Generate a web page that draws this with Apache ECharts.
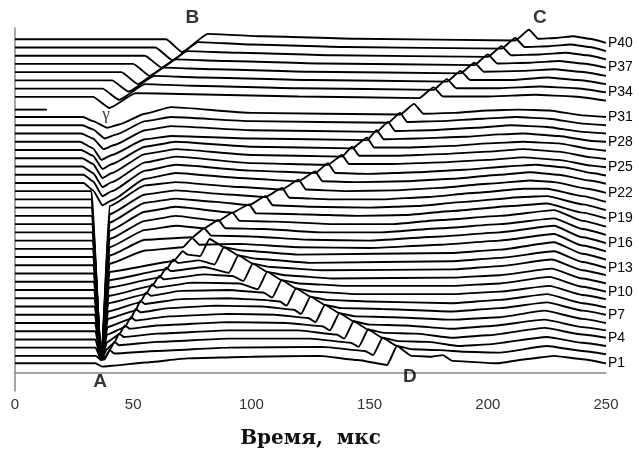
<!DOCTYPE html>
<html><head><meta charset="utf-8">
<script src="https://cdn.jsdelivr.net/npm/echarts@6/dist/echarts.min.js"></script>
<style>html,body{margin:0;padding:0;background:#fff}#c{width:639px;height:454px}</style>
</head><body><div id="c"></div>
<script>
// time axis ticks (мкс)
const xTicks = [0, 50, 100, 150, 200, 250];
const traceNames = ['P1','P2','P3','P4','P5','P6','P7','P8','P9','P10','P11','P12','P13','P14','P15','P16','P17','P18','P19','P20','P21','P22','P23','P24','P25','P26','P27','P28','P29','P30','P31','P32','P33','P34','P35','P36','P37','P38','P39','P40'];
const labeledTraces = ['P1','P4','P7','P10','P13','P16','P19','P22','P25','P28','P31','P34','P37','P40'];
// each trace: [time, deflection in trace spacings]
const P1 = [[0,0.1],[34,0.1],[37,-0.3],[41,-0.2],[55,0.2],[73,0.7],[100,0.9],[129,1.0],[145,0.5],[157.4,-0.1],[161.6,2.2],[167.7,1.0],[176,0.9],[181,1.1],[185,0.4],[204,0.1],[216,0.6],[228,1.0],[240,0.6],[250,0.1]];
const P2 = [[0,0],[34.2,0],[36.5,-0.5],[38,-0.4],[40,0.7],[42,0.3],[60,0.6],[90,1.0],[130,1.1],[148,0.6],[151.5,0.1],[155.5,2.2],[161.6,1.2],[168,0.8],[180,0.7],[190,0.5],[205,0.4],[225,1.2],[240,0.6],[250,0.2]];
const P3 = [[0,0],[34.1,0],[36.5,-1.5],[38.5,-1.0],[40,-0.3],[42,0.7],[44,0.3],[60,0.7],[90,1.1],[125,1.1],[142,0.6],[145.4,0.1],[149.4,2.2],[155.5,1.2],[162,0.8],[175,0.7],[188,0.2],[200,0.4],[225,1.3],[240,0.6],[250,0.2]];
const P4 = [[0,0],[34,0],[36.5,-2.5],[38.8,-1.2],[42,-0.4],[44,0.7],[46,0.3],[60,0.7],[90,1.1],[120,1.1],[136,0.6],[139.3,0.1],[143.3,2.2],[149.4,1.2],[156,0.8],[170,0.7],[185,0.2],[200,0.5],[224,1.4],[240,0.6],[250,0.2]];
const P5 = [[0,0],[34,0],[36.5,-3.5],[39,-1.3],[44,-0.4],[46.5,0.7],[48.5,0.3],[60,0.7],[90,1.1],[115,1.0],[130,0.6],[133.2,0.1],[137.2,2.2],[143.3,1.2],[150,0.8],[165,0.7],[185,0.3],[200,0.6],[224,1.4],[240,0.5],[250,0.1]];
const P6 = [[0,0],[33.9,0],[36.5,-4.5],[39,-1.4],[46.5,-0.5],[49,0.7],[51,0.3],[65,0.8],[90,1.1],[110,1.0],[124,0.6],[127.1,0.1],[131.1,2.2],[137.2,1.2],[144,0.8],[160,0.7],[185,0.4],[205,0.7],[224,1.5],[240,0.5],[250,0]];
const P7 = [[0,0],[33.8,0],[36.5,-5.5],[39.2,-1.5],[49,-0.5],[51,0.7],[53,0.3],[65,0.8],[85,1.1],[105,1.0],[118,0.6],[121,0.1],[125,2.2],[131.1,1.2],[138,0.8],[155,0.7],[185,0.4],[205,0.8],[225,1.5],[240,0.5],[250,0]];
const P8 = [[0,0],[33.7,0],[36.5,-6.5],[39.3,-1.5],[51,-0.5],[53,0.7],[55,0.3],[70,0.9],[90,1.0],[105,0.8],[112,0.6],[114.9,0.1],[118.9,2.2],[125,1.2],[132,0.8],[150,0.6],[185,0.4],[205,0.8],[225,1.5],[240,0.4],[250,-0.1]];
const P9 = [[0,0],[33.6,0],[36.5,-7.5],[39.4,-1.6],[53,-0.5],[55.5,0.7],[57.5,0.3],[70,0.9],[90,1.0],[105,0.7],[108.8,0.1],[112.8,2.2],[118.9,1.2],[126,0.8],[145,0.5],[185,0.5],[205,0.8],[226,1.5],[240,0.4],[250,-0.1]];
const P10 = [[0,0],[33.5,0],[36.5,-8.5],[39.5,-1.6],[55.5,-0.5],[58,0.7],[60,0.3],[75,0.9],[95,0.8],[102.7,0.1],[106.7,2.2],[112.8,1.2],[120,0.8],[140,0.5],[185,0.5],[205,0.8],[226,1.6],[240,0.4],[250,-0.2]];
const P11 = [[0,0],[33.4,0],[36.5,-9.5],[39.6,-1.7],[58,-0.5],[61,0.7],[63,0.3],[80,0.9],[92,0.7],[96.6,0.1],[100.6,2.2],[106.7,1.2],[114,0.8],[135,0.4],[185,0.5],[205,0.8],[227,1.6],[240,0.4],[250,-0.2]];
const P12 = [[0,0],[33.3,0],[36.5,-10.5],[39.7,-1.7],[61,-0.5],[64,0.7],[66,0.3],[80,0.8],[90.5,0.1],[94.5,2.2],[100.6,1.2],[108,0.8],[130,0.4],[185,0.5],[205,0.9],[227,1.7],[240,0.4],[250,-0.2]];
const P13 = [[0,0],[33.2,0],[36.5,-11.5],[39.8,-1.8],[64,-0.5],[67,0.7],[69,0.3],[78,0.6],[84.4,0.1],[88.4,2.2],[94.5,1.2],[102,0.8],[125,0.3],[185,0.5],[205,0.9],[228,1.7],[240,0.4],[250,-0.3]];
const P14 = [[0,0],[33.1,0],[36.5,-12.5],[40,-1.8],[67,-0.5],[71,0.7],[73,0.3],[78.3,0.1],[82.3,2.2],[88.4,1.2],[96,0.8],[120,0.3],[185,0.5],[205,0.9],[228,1.8],[240,0.4],[250,-0.3]];
const P15 = [[0,0],[33,0],[36.5,-13.5],[40,-1.8],[55,-0.2],[71,0.2],[75,1.3],[78,0.5],[95,0.6],[120,0.2],[150,0.1],[180,0.5],[205,1.0],[228,1.8],[240,0.4],[250,-0.3]];
const P16 = [[0,0],[32.9,0],[36.5,-14.5],[40,-1.8],[55,0.1],[75,0.4],[80,1.5],[83,0.6],[100,0.5],[125,0.1],[150,0],[180,0.5],[205,1.0],[228,1.8],[240,0.4],[250,-0.3]];
const P17 = [[0,0],[32.8,0],[36.5,-15.5],[40,-1.8],[55,0.3],[68,0.8],[80,0.5],[86,1.5],[89,0.5],[105,0.4],[130,0],[155,0],[180,0.5],[205,1.0],[228,1.7],[240,0.4],[250,-0.3]];
const P18 = [[0,0],[32.7,0],[36.5,-16.5],[40,-1.8],[55,0.4],[68,1.0],[86,0.4],[92,1.4],[95,0.4],[110,0.3],[135,0],[160,0],[180,0.5],[205,1.0],[228,1.7],[240,0.4],[250,-0.3]];
const P19 = [[0,0],[32.6,0],[36.5,-17.5],[40,-1.8],[55,0.5],[68,1.1],[92,0.4],[99,1.4],[102,0.3],[120,0.2],[145,0],[165,0.1],[185,0.6],[210,1.2],[225,1.5],[240,0.4],[250,-0.3]];
const P20 = [[0,0],[32.5,0],[36.5,-18.5],[40,-1.8],[55,0.6],[68,1.1],[85,0.7],[99,0.3],[106,1.4],[109,0.3],[125,0.1],[150,0],[170,0.2],[190,0.7],[215,1.3],[225,1.4],[240,0.4],[250,-0.3]];
const P21 = [[0,0],[32.4,0],[36.5,-19.5],[40,-1.8],[55,0.6],[68,1.1],[90,0.6],[106,0.3],[113,1.4],[116,0.2],[135,0],[155,0],[175,0.3],[195,0.8],[215,1.3],[225,1.3],[240,0.4],[250,-0.3]];
const P22 = [[0,0],[32.3,0],[36.5,-20.5],[40,-1.8],[55,0.7],[68,1.1],[95,0.5],[113,0.2],[120,1.4],[123,0.2],[140,0],[160,0.1],[180,0.4],[200,0.9],[218,1.3],[228,1.1],[242,0.3],[250,-0.2]];
const P23 = [[0,0],[29,0],[33,-0.9],[37,-2.7],[41,-2.1],[55,0.5],[68,1.2],[95,0.6],[120,0.2],[127,1.4],[130,0.2],[145,0.1],[165,0.2],[185,0.5],[205,1.0],[218,1.3],[230,1.0],[243,0.3],[250,-0.1]];
const P24 = [[0,0],[29,0],[33,-0.8],[37,-2.6],[41,-2.0],[55,0.5],[68,1.2],[100,0.5],[127,0.2],[132.4,1.4],[135.4,0.2],[150,0.1],[170,0.3],[190,0.6],[208,1.0],[220,1.2],[232,0.9],[244,0.2],[250,-0.1]];
const P25 = [[0,0],[28.5,0],[33,-0.8],[37,-2.5],[41,-1.9],[55,0.5],[68,1.2],[100,0.4],[132.4,0.2],[138.3,1.4],[141.3,0.3],[160,0.3],[180,0.5],[200,0.8],[215,1.1],[230,0.8],[244,0.1],[250,-0.1]];
const P26 = [[0,0],[28.5,0],[33,-0.7],[37,-2.4],[41,-1.8],[55,0.5],[68,1.1],[100,0.4],[138.3,0.2],[142.6,1.4],[145.6,0.3],[160,0.3],[180,0.5],[200,0.8],[215,1.1],[230,0.8],[244,0.1],[250,-0.1]];
const P27 = [[0,0],[28,0],[33,-0.7],[37,-2.3],[41,-1.7],[55,0.4],[68,1.0],[100,0.4],[142.6,0.2],[148.9,1.5],[151.9,0.3],[165,0.3],[185,0.5],[200,0.8],[215,1.0],[230,0.8],[244,0.1],[250,-0.1]];
const P28 = [[0,0],[27.5,0],[33,-0.8],[36.5,-2.2],[41,-1.6],[55,0.3],[66,0.7],[100,0.4],[148.9,0.2],[153,1.4],[156,0.3],[170,0.4],[190,0.6],[205,0.9],[215,1.0],[230,0.7],[244,0.1],[250,0]];
const P29 = [[0,0],[28,0],[33,-0.6],[37.5,-1.9],[42,-1.4],[55,0.4],[66,0.9],[100,0.4],[153,0.2],[157.8,1.4],[160.8,0.3],[175,0.4],[195,0.7],[210,1.0],[225,0.8],[240,0.2],[250,0]];
const P30 = [[0,0],[28.5,0],[33,-0.5],[38,-1.6],[43,-1.1],[55,0.5],[66,1.0],[100,0.5],[157.8,0.3],[162.9,1.5],[165.9,0.4],[180,0.5],[198,0.8],[212,1.0],[226,0.8],[240,0.2],[250,0]];
const P31 = [[0,0],[28.8,0],[33,-0.5],[39,-1.3],[44,-0.9],[55,0.4],[66,1.2],[100,0.5],[162.9,0.3],[168.8,1.6],[172.8,0.4],[185,0.5],[200,0.8],[213,0.9],[226,0.8],[240,0.2],[250,0]];
const P32 = [[0,-0.1],[13.5,-0.1]];
const P33 = [[0,0.45],[33,0.45],[40,-0.9],[51,0.9],[70,0.8],[120,0.5],[171,0.3],[177,1.6],[181,0.5],[200,0.5],[220,0.7],[236,0.5],[250,0]];
const P34 = [[0,0.45],[37,0.45],[44,-0.9],[55,1.0],[75,0.8],[120,0.5],[177,0.3],[182.7,1.6],[186.7,0.5],[205,0.5],[222,0.7],[237,0.5],[250,0]];
const P35 = [[0,0.45],[41,0.45],[48,-0.9],[59,1.0],[80,0.8],[125,0.5],[182.7,0.3],[188.5,1.6],[192.5,0.5],[210,0.5],[225,0.8],[238,0.5],[250,0]];
const P36 = [[0,0.45],[45,0.45],[52,-1.0],[63,1.0],[85,0.8],[125,0.5],[188.5,0.3],[194.3,1.6],[198.3,0.5],[215,0.6],[228,0.8],[239,0.5],[250,0]];
const P37 = [[0,0.45],[50,0.45],[57,-1.0],[68,1.0],[90,0.8],[130,0.5],[194.3,0.3],[200,1.6],[204,0.5],[218,0.6],[230,0.8],[240,0.5],[250,0]];
const P38 = [[0,0.45],[55,0.45],[62,-1.0],[73,1.0],[95,0.8],[135,0.5],[200,0.3],[205.8,1.6],[209.8,0.5],[222,0.6],[233,0.8],[242,0.5],[250,0]];
const P39 = [[0,0.45],[59.5,0.45],[66.5,-1.1],[77.5,1.1],[100,0.8],[140,0.5],[205.8,0.3],[211.6,1.6],[215.6,0.5],[226,0.6],[235,0.8],[243,0.5],[250,0]];
const P40 = [[0,0.45],[64,0.45],[70.6,-1.1],[81.6,1.1],[105,0.8],[145,0.5],[211.6,0.3],[217.4,1.6],[221.4,0.5],[229,0.6],[236,0.8],[243,0.5],[250,0]];
const traceData = [P1,P2,P3,P4,P5,P6,P7,P8,P9,P10,P11,P12,P13,P14,P15,P16,P17,P18,P19,P20,P21,P22,P23,P24,P25,P26,P27,P28,P29,P30,P31,P32,P33,P34,P35,P36,P37,P38,P39,P40];
// annotation letters
const annoText = ['A','B','C','D','\u03b3'];
const annoT = [36, 75, 222, 167, 38.5];
const annoV = [-1.1, 43.0, 43.0, -0.5, 31.3];
const annoSerif = [false, false, false, false, true];

const chart = echarts.init(document.getElementById('c'), null, {renderer:'canvas'});
const series = traceData.map((pts, i) => {
  const name = traceNames[i];
  const k = i + 1;
  return {
    name: name, type: 'line', showSymbol: false, symbol: 'none', clip: false,
    smooth: 0.15, smoothMonotone: 'x', silent: true,
    lineStyle: {color: '#000', width: 1.9},
    data: pts.map(p => [p[0], k + p[1]]),
    endLabel: {show: labeledTraces.indexOf(name) >= 0, formatter: name, color: '#000',
      fontSize: 14, fontFamily: 'Liberation Sans, Arial, sans-serif', distance: 2}
  };
});
series.push({
  type: 'scatter', symbolSize: 0, clip: false, silent: true,
  data: annoText.map((s, i) => ({value: [annoT[i], annoV[i]], name: s,
    label: annoSerif[i] ? {fontSize: 17, fontWeight: 'normal', fontFamily: 'Liberation Serif, DejaVu Serif, serif'} : {}})),
  label: {show: true, position: 'inside', formatter: p => p.name, color: '#000',
    fontSize: 19, fontWeight: 'bold', fontFamily: 'Liberation Sans, Arial, sans-serif'}
});
chart.setOption({
  animation: false,
  backgroundColor: '#fff',
  grid: {left: 15, right: 33, top: 28, bottom: 61},
  xAxis: {type: 'value', min: 0, max: 250, interval: 50,
    axisLine: {show: true, lineStyle: {color: '#888', width: 1.5}},
    axisTick: {show: false}, splitLine: {show: false},
    axisLabel: {color: '#333', fontSize: 15, margin: 6, fontFamily: 'Liberation Sans, Arial, sans-serif',
      formatter: v => xTicks.indexOf(v) >= 0 ? String(v) : ''},
    name: 'Время,  мкс', nameLocation: 'middle', nameGap: 38,
    nameTextStyle: {fontSize: 20, fontWeight: 'bold', color: '#111', fontFamily: 'DejaVu Serif, Liberation Serif, serif'}
  },
  yAxis: {type: 'value', min: -2.26, max: 41.81, show: true,
    axisLine: {show: true, onZero: false, lineStyle: {color: '#888', width: 1.5}},
    axisTick: {show: false}, axisLabel: {show: false}, splitLine: {show: false}},
  series: series
});
</script></body></html>
